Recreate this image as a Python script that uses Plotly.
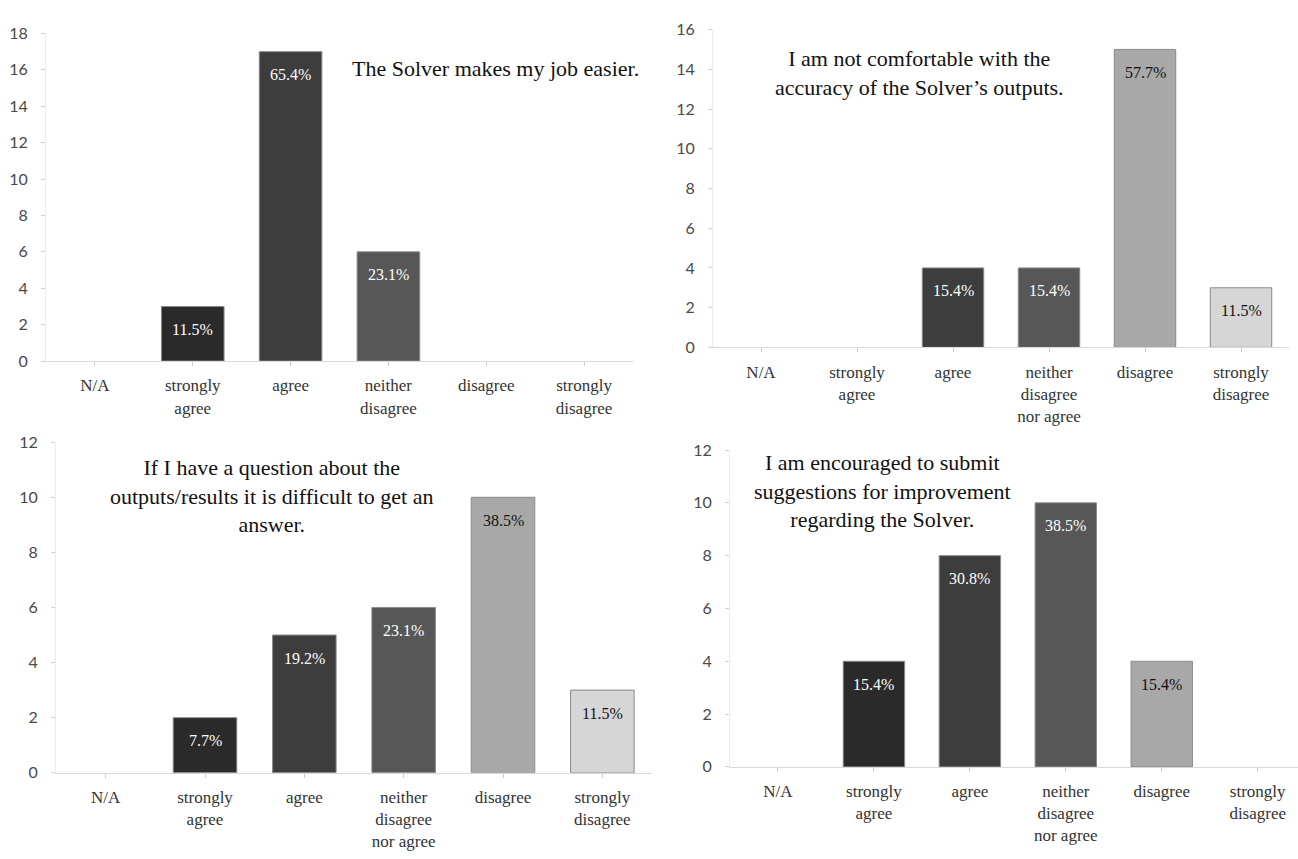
import plotly.graph_objects as go

W, H = 1298, 859

categories = ["N/A", "strongly agree", "agree", "neither disagree nor agree", "disagree", "strongly disagree"]
tick_text_full = ["N/A", "strongly<br>agree", "agree", "neither<br>disagree<br>nor agree", "disagree", "strongly<br>disagree"]
tick_text_p1 = ["N/A", "strongly<br>agree", "agree", "neither<br>disagree", "disagree", "strongly<br>disagree"]

bar_colors = ["#262626", "#2a2a2a", "#3d3d3d", "#575757", "#a8a8a8", "#d6d6d6"]
text_colors = ["white", "white", "white", "white", "#111111", "#111111"]

p1_values = [0, 3, 17, 6, 0, 0]
p1_labels = ["", "11.5%", "65.4%", "23.1%", "", ""]
p1_title = "The Solver makes my job easier."

p2_values = [0, 0, 4, 4, 15, 3]
p2_labels = ["", "", "15.4%", "15.4%", "57.7%", "11.5%"]
p2_title = "I am not comfortable with the<br>accuracy of the Solver’s outputs."

p3_values = [0, 2, 5, 6, 10, 3]
p3_labels = ["", "7.7%", "19.2%", "23.1%", "38.5%", "11.5%"]
p3_title = "If I have a question about the<br>outputs/results it is difficult to get an<br>answer."

p4_values = [0, 4, 8, 10, 4, 0]
p4_labels = ["", "15.4%", "30.8%", "38.5%", "15.4%", ""]
p4_title = "I am encouraged to submit<br>suggestions for improvement<br>regarding the Solver."

panels = [
    dict(vals=p1_values, labels=p1_labels, x0=46, x1=633, ytop=24, ybot=359, ymax=18,
         xr=5.5, ticks=tick_text_p1, title=p1_title, tx=495, ty=60),
    dict(vals=p2_values, labels=p2_labels, x0=713, x1=1289, ytop=20, ybot=345, ymax=16,
         xr=5.5, ticks=tick_text_full, title=p2_title, tx=919, ty=64),
    dict(vals=p3_values, labels=p3_labels, x0=56, x1=652, ytop=442, ybot=780, ymax=12,
         xr=5.5, ticks=tick_text_full, title=p3_title, tx=271, ty=497),
    dict(vals=p4_values, labels=p4_labels, x0=730, x1=1298, ytop=450, ybot=774, ymax=12,
         xr=5.42, ticks=tick_text_full, title=p4_title, tx=882, ty=492),
]

fig = go.Figure()
annotations = []
serif = "Liberation Serif"

for i, p in enumerate(panels):
    n = i + 1
    xa = "x" if n == 1 else f"x{n}"
    ya = "y" if n == 1 else f"y{n}"
    line_w = [1 if v > 0 else 0 for v in p["vals"]]
    fig.add_trace(go.Bar(
        x=list(range(len(categories))), y=p["vals"],
        marker=dict(color=bar_colors, line=dict(color="#8a8a8a", width=line_w)),
        width=0.64, xaxis=xa, yaxis=ya, showlegend=False, hoverinfo="y",
    ))
    for k, (v, lab) in enumerate(zip(p["vals"], p["labels"])):
        if lab:
            annotations.append(dict(
                x=k, y=v, xref=xa, yref=ya, text=lab, showarrow=False,
                yshift=-23, yanchor="middle",
                font=dict(family=serif, size=16, color=text_colors[k]),
            ))
    annotations.append(dict(
        x=p["tx"] / W, y=1 - p["ty"] / H, xref="paper", yref="paper",
        text=p["title"], showarrow=False, xanchor="center", yanchor="middle",
        align="center", font=dict(family=serif, size=22, color="#111111"),
    ))
    xkey = "xaxis" if n == 1 else f"xaxis{n}"
    ykey = "yaxis" if n == 1 else f"yaxis{n}"
    fig.update_layout(**{
        xkey: dict(
            domain=[p["x0"] / W, p["x1"] / W], anchor=ya, range=[-0.5, p["xr"]],
            tickmode="array", tickvals=list(range(len(categories))), ticktext=p["ticks"],
            showline=True, linecolor="#d9d9d9", linewidth=1,
            ticks="outside", ticklen=4, tickcolor="#cccccc", tickson="boundaries",
            ticklabelstandoff=5, showgrid=False, zeroline=False,
            tickfont=dict(family=serif, size=17, color="#333333"),
        ),
        ykey: dict(
            domain=[1 - p["ybot"] / H, 1 - p["ytop"] / H], anchor=xa, range=[0, p["ymax"]],
            dtick=2, showline=True, linecolor="#ececec", linewidth=1,
            ticks="outside", ticklen=4, tickcolor="#d0d0d0",
            ticklabelstandoff=10, showgrid=False, zeroline=False,
            tickfont=dict(family="Lato, Carlito, sans-serif", size=16, color="#4a4a4a"),
        ),
    })

fig.update_layout(
    width=W, height=H, margin=dict(l=0, r=0, t=0, b=0),
    paper_bgcolor="white", plot_bgcolor="white",
    annotations=annotations, bargap=0.36,
)

fig.write_html("out.html")
